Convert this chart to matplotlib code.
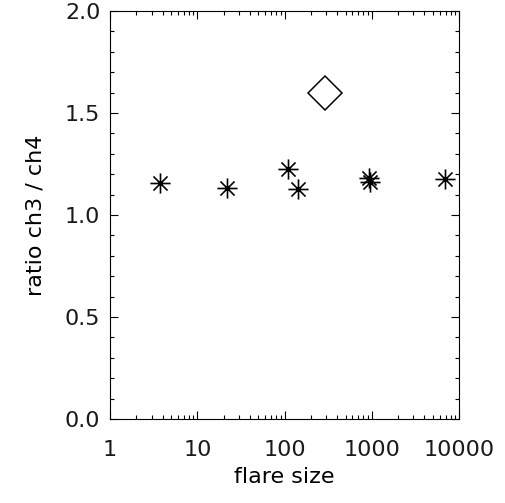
import numpy as np
import matplotlib
matplotlib.use("Agg")
import matplotlib.pyplot as plt
from matplotlib.path import Path
from matplotlib.ticker import FixedLocator, LogLocator, MultipleLocator, NullFormatter

# data
flare_size = [3.7, 22, 110, 142, 930, 950, 6900]
ratio = [1.155, 1.134, 1.224, 1.126, 1.18, 1.16, 1.178]
diamond_size = [294]
diamond_ratio = [1.60]

xticks = [1, 10, 100, 1000, 10000]
xticklabels = ["1", "10", "100", "1000", "10000"]
yticks = [0.0, 0.5, 1.0, 1.5, 2.0]
yticklabels = ["0.0", "0.5", "1.0", "1.5", "2.0"]

plt.rcParams["font.family"] = "DejaVu Sans"
plt.rcParams["text.color"] = "#1a1a1a"
plt.rcParams["xtick.labelcolor"] = "#1a1a1a"
plt.rcParams["ytick.labelcolor"] = "#1a1a1a"

# IDL-style asterisk (psym=2)
d = 0.7
asterisk = Path(
    [(-1, 0), (1, 0), (0, -1), (0, 1), (-d, -d), (d, d), (-d, d), (d, -d)],
    [Path.MOVETO, Path.LINETO] * 4,
)

fig = plt.figure(figsize=(5.05, 5.03), dpi=100)
ax = fig.add_axes([0.218, 0.167, 0.691, 0.811])

ax.plot(flare_size, ratio, linestyle="none", marker=asterisk, markersize=14.5,
        markeredgecolor="black", markerfacecolor="none", markeredgewidth=1.2)
ax.plot(diamond_size, diamond_ratio, linestyle="none", marker="D", markersize=17.5,
        markeredgecolor="black", markerfacecolor="none", markeredgewidth=1.1)

ax.set_xscale("log")
ax.set_xlim(1, 10000)
ax.set_ylim(0, 2.0)

ax.xaxis.set_major_locator(FixedLocator(xticks))
ax.set_xticklabels(xticklabels)
ax.xaxis.set_minor_locator(LogLocator(base=10, subs=np.arange(2, 10)))
ax.xaxis.set_minor_formatter(NullFormatter())
ax.yaxis.set_major_locator(FixedLocator(yticks))
ax.set_yticklabels(yticklabels)
ax.yaxis.set_minor_locator(MultipleLocator(0.1))

ax.tick_params(which="both", direction="in", top=True, right=True,
               width=0.8, color="black", labelsize=16)
ax.tick_params(which="major", length=6)
ax.tick_params(which="minor", length=3)
ax.tick_params(axis="x", which="major", pad=15)
ax.tick_params(axis="y", which="major", pad=7)

for s in ax.spines.values():
    s.set_linewidth(0.8)

ax.set_xlabel("flare size", fontsize=16, labelpad=5)
ax.set_ylabel("ratio ch3 / ch4", fontsize=16, labelpad=14)

fig.savefig("out.png", dpi=100, facecolor="white")
